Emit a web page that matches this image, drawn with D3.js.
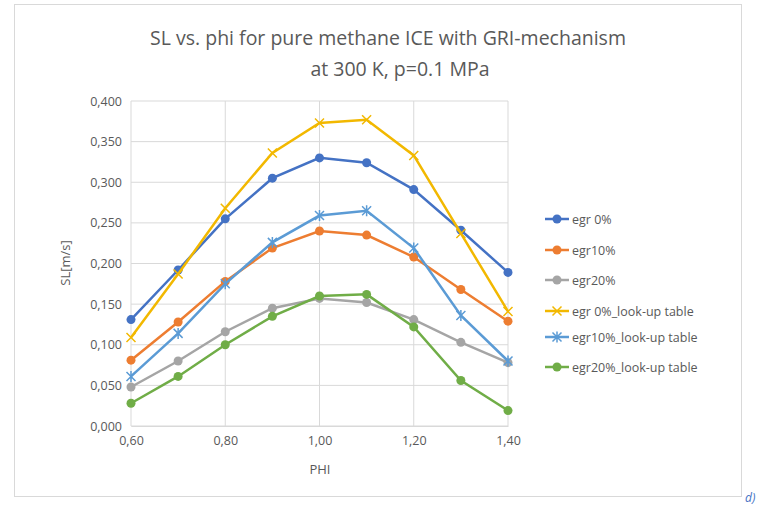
<!DOCTYPE html><html><head><meta charset="utf-8"><script src="https://cdn.jsdelivr.net/npm/d3@7"></script>
<style>body{margin:0;background:#fff;font-family:Carlito,"Open Sans",sans-serif}</style></head><body><svg id="c" width="777" height="514"></svg><script>
const phi=[0.6,0.7,0.8,0.9,1.0,1.1,1.2,1.3,1.4];
const names=["egr 0%","egr10%","egr20%","egr 0%_look-up table","egr10%_look-up table","egr20%_look-up table"];
const egr0=[0.131,0.192,0.255,0.305,0.330,0.324,0.291,0.241,0.189];
const egr10=[0.081,0.128,0.178,0.219,0.240,0.235,0.208,0.168,0.129];
const egr20=[0.048,0.080,0.116,0.145,0.157,0.152,0.131,0.103,0.078];
const lut0=[0.109,0.187,0.268,0.336,0.373,0.377,0.333,0.237,0.141];
const lut10=[0.061,0.114,0.175,0.226,0.259,0.265,0.219,0.136,0.080];
const lut20=[0.028,0.061,0.100,0.135,0.160,0.162,0.122,0.056,0.019];
const series=[egr0,egr10,egr20,lut0,lut10,lut20];
const colors=["#4472C4","#ED7D31","#A5A5A5","#F2B800","#5B9BD5","#70AD47"];
const markers=["circle","circle","circle","x","star","circle"];
const yTicks=d3.range(0,0.4001,0.05);
const FF="'Open Sans',sans-serif";
const svg=d3.select("#c").style("font-family",FF);
svg.append("rect").attr("x",14.5).attr("y",4.5).attr("width",727).attr("height",492).attr("fill","none").attr("stroke","#d9d9d9");
svg.append("text").attr("x",745).attr("y",502).attr("font-size",12).attr("font-style","italic").attr("fill","#4472C4").text("d)");
const x=d3.scaleLinear().domain([0.6,1.4]).range([131,508]);
const y=d3.scaleLinear().domain([0,0.4]).range([426,101]);
const fmt=v=>v.toFixed(3).replace(".",",");
svg.append("g").selectAll("line").data(yTicks).join("line").attr("x1",131).attr("x2",508).attr("y1",d=>y(d)).attr("y2",d=>y(d)).attr("stroke","#d9d9d9");
svg.append("g").selectAll("line").data(d3.range(0.6,1.401,0.2)).join("line").attr("x1",d=>x(d)).attr("x2",d=>x(d)).attr("y1",101).attr("y2",426).attr("stroke","#d9d9d9");
const ya=svg.append("g").attr("transform","translate(131,0)").call(d3.axisLeft(y).tickValues(yTicks).tickFormat(fmt).tickSize(0).tickPadding(9));
ya.select(".domain").remove();
const xa=svg.append("g").attr("transform","translate(0,426)").call(d3.axisBottom(x).tickValues(d3.range(0.6,1.401,0.2)).tickFormat(d=>d.toFixed(2).replace(".",",")).tickSize(0).tickPadding(10));
xa.select(".domain").attr("stroke","#d9d9d9");
svg.selectAll(".tick text").attr("font-size",12.5).attr("fill","#595959").attr("font-family",FF);
svg.append("text").attr("x",320).attr("y",474).attr("text-anchor","middle").attr("font-size",13).attr("fill","#595959").text("PHI");
svg.append("text").attr("transform","translate(70,263) rotate(-90)").attr("text-anchor","middle").attr("font-size",13).attr("fill","#595959").text("SL[m/s]");
svg.append("text").attr("x",388).attr("y",45).attr("text-anchor","middle").attr("font-size",19.5).attr("fill","#595959").text("SL vs. phi for pure methane ICE with GRI-mechanism");
svg.append("text").attr("x",400).attr("y",76).attr("text-anchor","middle").attr("font-size",19.5).attr("fill","#595959").text("at 300 K, p=0.1 MPa");
function marker(g,type,c,cx,cy){
 if(type==="circle") g.append("circle").attr("cx",cx).attr("cy",cy).attr("r",4.5).attr("fill",c);
 else{const s=4.5;g.append("path").attr("d",`M${cx-s},${cy-s}L${cx+s},${cy+s}M${cx-s},${cy+s}L${cx+s},${cy-s}`+(type==="star"?`M${cx},${cy-s-1}L${cx},${cy+s+1}`:"")).attr("stroke",c).attr("stroke-width",1.5);}
}
const line=d3.line().x((d,i)=>x(phi[i])).y(d=>y(d));
series.forEach((s,k)=>{
 const g=svg.append("g");
 g.append("path").attr("d",line(s)).attr("fill","none").attr("stroke",colors[k]).attr("stroke-width",2.5);
 s.forEach((v,i)=>marker(g,markers[k],colors[k],x(phi[i]),y(v)));
});
const ly=[219,250,280,311,337,367];
names.forEach((n,k)=>{
 const g=svg.append("g");
 g.append("line").attr("x1",545).attr("x2",569).attr("y1",ly[k]).attr("y2",ly[k]).attr("stroke",colors[k]).attr("stroke-width",2.5);
 marker(g,markers[k],colors[k],557,ly[k]);
 g.append("text").attr("x",572).attr("y",ly[k]+4.5).attr("font-size",12.5).attr("fill","#595959").text(n);
});
</script></body></html>
